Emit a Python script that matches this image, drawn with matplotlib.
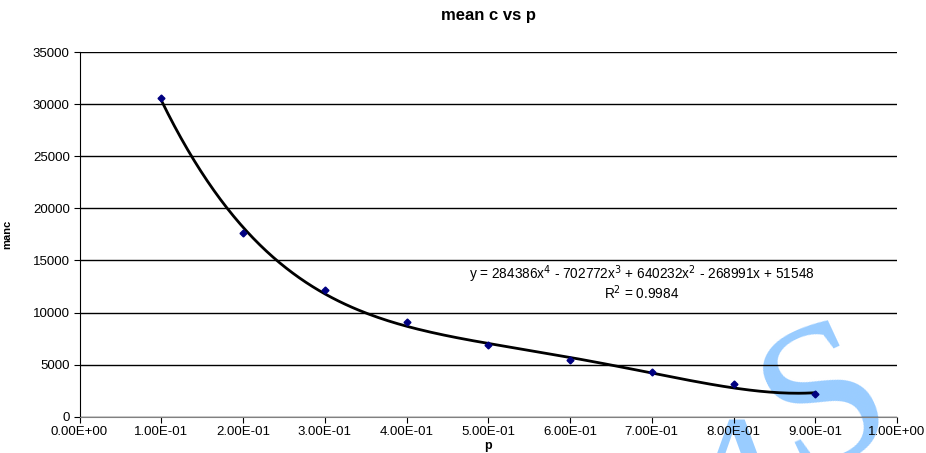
import numpy as np
import matplotlib.pyplot as plt

plt.rcParams['font.family'] = ['Liberation Sans', 'DejaVu Sans']

# data
p_values = [0.1, 0.2, 0.3, 0.4, 0.5, 0.6, 0.7, 0.8, 0.9]
mean_c = [30600, 17600, 12150, 9100, 6900, 5400, 4250, 3150, 2200]
# 4th order polynomial trendline, coefficients as printed on the chart
trend_coef = [284386, -702772, 640232, -268991, 51548]
x_ticks = [0.0, 0.1, 0.2, 0.3, 0.4, 0.5, 0.6, 0.7, 0.8, 0.9, 1.0]
y_ticks = [0, 5000, 10000, 15000, 20000, 25000, 30000, 35000]

fig = plt.figure(figsize=(9.26, 4.53), dpi=100)
ax = fig.add_axes([0.0859, 0.080, 0.8828, 0.805])
ax.patch.set_alpha(0)

# trendline
xs = np.linspace(min(p_values), max(p_values), 200)
ax.plot(xs, np.polyval(trend_coef, xs), color='black', lw=2, zorder=3)
ax.plot(p_values, mean_c, linestyle='none', marker='D', ms=3.5,
        color='#000080', zorder=4)

ax.set_xlim(0, 1.0)
ax.set_ylim(0, 35000)
ax.set_xticks(x_ticks)
ax.set_xticklabels(['%.2E' % v for v in x_ticks])
ax.set_yticks(y_ticks)
ax.tick_params(labelsize=9.5, length=4, width=0.8, direction='out', pad=3)
ax.grid(axis='y', color='black', lw=1)
ax.set_axisbelow(True)
for side in ['top', 'right']:
    ax.spines[side].set_visible(False)
ax.spines['bottom'].set_color('#808080')

ax.set_title('mean c vs p', fontsize=12, fontweight='bold', pad=23)
ax.set_xlabel('p', fontsize=9, fontweight='bold', labelpad=1)
ax.set_ylabel('manc', fontsize=8, fontweight='bold', labelpad=15)

ax.text(0.688, 13700, 'y = 284386x$^4$ - 702772x$^3$ + 640232x$^2$ - 268991x + 51548',
        fontsize=9.8, ha='center', va='center')
ax.text(0.688, 11900, 'R$^2$ = 0.9984', fontsize=9.8, ha='center', va='center')

# light blue watermark behind the chart
fig.text(0.894, 0.105, 'S', fontsize=150, family='Liberation Serif',
         color='#99ccff', ha='center', va='center', rotation=25, zorder=-1)
fig.text(0.797, -0.25, 'A', fontsize=120, family='Liberation Serif',
         color='#99ccff', ha='center', va='bottom', zorder=-1)

fig.savefig('out.png', dpi=100)
